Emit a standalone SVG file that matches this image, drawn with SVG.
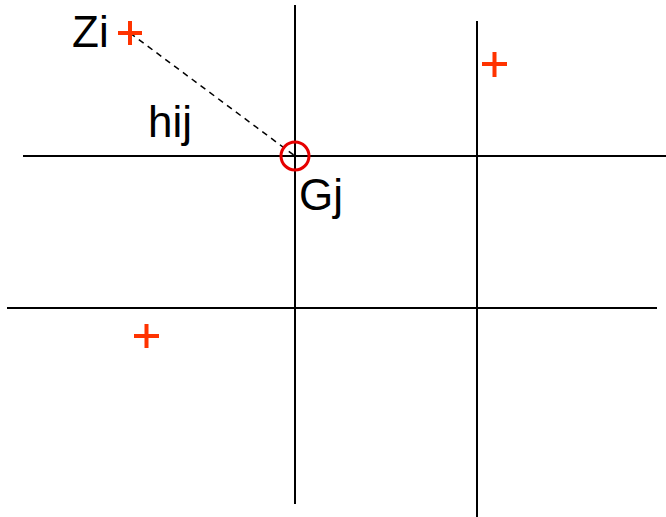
<svg xmlns="http://www.w3.org/2000/svg" width="666" height="517" viewBox="0 0 666 517">
<style>
.grid{stroke:#000;stroke-width:2;fill:none}
.mark{stroke:#ff3300;stroke-width:4;fill:none}
.lbl{font-family:"Liberation Sans",Arial,sans-serif;font-size:44px;fill:#000}
</style>
<rect width="666" height="517" fill="#fff"/>
<g id="grid">
<line class="grid" x1="295" y1="5" x2="295" y2="504"/>
<line class="grid" x1="477" y1="21" x2="477" y2="517"/>
<line class="grid" x1="23" y1="156" x2="666" y2="156"/>
<line class="grid" x1="7" y1="308" x2="657" y2="308"/>
</g>
<g id="connectors">
<line x1="130" y1="33" x2="295" y2="156" stroke="#000" stroke-width="1.5" stroke-dasharray="6,5"/>
</g>
<g id="Zi">
<path class="mark" d="M118 33H142M130 21V45"/>
<text class="lbl" x="72" y="47">Zi</text>
</g>
<g id="p2"><path class="mark" d="M482 64H507M494.5 52V77"/></g>
<g id="p3"><path class="mark" d="M134 336H159M146.5 324V348"/></g>
<g id="Gj">
<circle cx="295" cy="156" r="14" fill="none" stroke="#e60000" stroke-width="3"/>
<text class="lbl" x="299" y="210">Gj</text>
</g>
<g id="hij"><text class="lbl" x="148" y="137">hij</text></g>
</svg>
